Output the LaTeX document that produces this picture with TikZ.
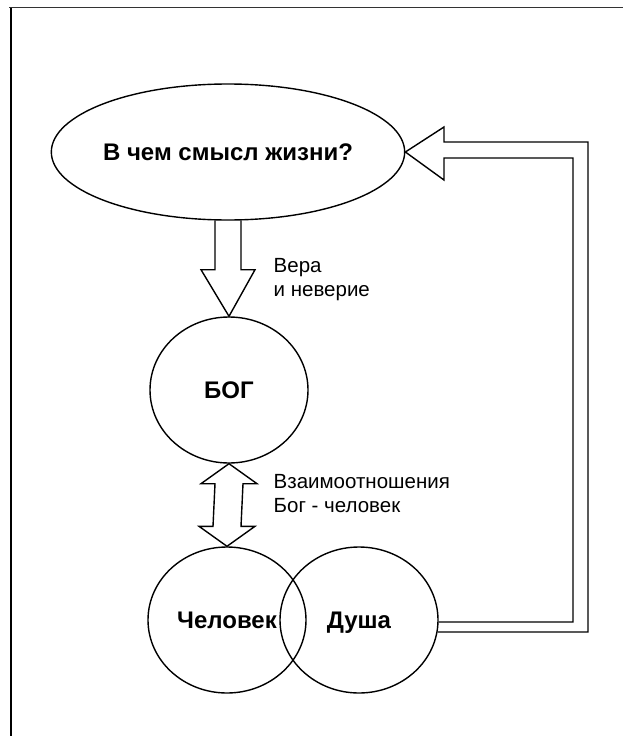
\documentclass[tikz,border=0pt]{standalone}
\usepackage{fontspec}
\setmainfont{Liberation Sans}
\usetikzlibrary{shapes.geometric,calc}
\begin{document}
\begin{tikzpicture}[x=1pt,y=-1pt, line width=1.4pt, line join=miter,
  shp/.style={draw, ellipse, inner sep=0pt, text height=16pt, text depth=0pt,
    font=\fontsize{24}{28}\selectfont\bfseries},
  circ/.style={shp, minimum width=158pt, minimum height=146pt},
  lbl/.style={font=\fontsize{20.5}{24}\selectfont, align=left, anchor=base west, inner sep=0pt}]
\useasboundingbox (0,0) rectangle (623,736);
\draw[line width=1.3pt, black!80] (9,7.5) -- (623,7.5);
\draw[line width=1.3pt] (11,7.5) -- (11,736);

\node[shp, minimum width=342pt, minimum height=136pt] (q) at (228,152) {В чем смысл жизни?};
\node[circ] (bog) at (229,390) {БОГ};
\node[circ] (man) at (227,620) {Человек};
\node[circ] (soul) at (359,620) {Душа};

% Faith arrow
\draw ($(q.south)+(-13,0)$) -- ($(q.south)+(-13,49)$) -- ($(q.south)+(-27,49)$)
  -- (bog.north) -- ($(q.south)+(27,49)$) -- ($(q.south)+(13,49)$) -- ($(q.south)+(13,0)$);
\node[lbl] (l1) at (273,296) {Вера\\и неверие};

% Relationship double arrow
\draw (bog.south) -- ($(bog.south)+(28,20)$) -- ($(bog.south)+(14,20)$)
  -- ($(man.north)+(14,-20)$) -- ($(man.north)+(28,-20)$) -- (man.north)
  -- ($(man.north)+(-28,-20)$) -- ($(man.north)+(-14,-20)$)
  -- ($(bog.south)+(-14,20)$) -- ($(bog.south)+(-28,20)$) -- cycle;
\node[lbl] (l2) at (273,512) {Взаимоотношения\\Бог - человек};

% Return arrow
\draw ($(soul.east)+(-1,12)$) -- (588,632) -- (588,142) -- (444,142) -- (444,127)
  -- (q.east) -- (444,180) -- (444,158) -- (573,158) -- (573,622) -- ($(soul.east)+(0,2)$);
\end{tikzpicture}
\end{document}
